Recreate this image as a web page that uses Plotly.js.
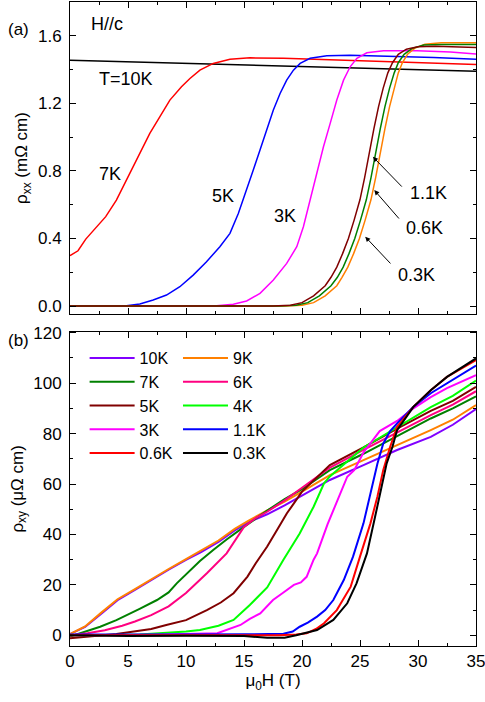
<!DOCTYPE html>
<html>
<head>
<meta charset="utf-8">
<script src="https://cdn.plot.ly/plotly-3.0.1.min.js"></script>
<style>html,body{margin:0;padding:0;background:#fff;}#chart{width:485px;height:702px;}</style>
</head>
<body>
<div id="chart"></div>
<script>
// ---------- Panel (a): rho_xx (mOhm cm) vs field (T) ----------
var xx10K_H = [0, 35];
var xx10K_R = [1.454, 1.39];

var xx7K_H = [0, 0.69, 1.36, 2.28, 3.08, 4.0, 4.87, 5.44, 6.02, 6.88, 7.74, 8.61, 9.61, 10.34, 11.2, 12.35, 13.79, 15.52, 18.4, 21.28, 25.6, 29.9, 35];
var xx7K_R = [0.298, 0.327, 0.396, 0.469, 0.529, 0.627, 0.746, 0.824, 0.903, 1.022, 1.120, 1.219, 1.298, 1.347, 1.396, 1.436, 1.460, 1.469, 1.466, 1.460, 1.450, 1.440, 1.430];

var xx5K_H = [0, 4.87, 6.02, 7.17, 8.32, 9.47, 10.62, 11.77, 12.92, 13.79, 14.51, 15.23, 15.8, 16.38, 16.95, 17.53, 18.11, 18.68, 19.26, 19.84, 20.7, 22.14, 24.15, 27.03, 31.35, 35];
var xx5K_R = [0, 0.002, 0.012, 0.036, 0.065, 0.114, 0.183, 0.262, 0.351, 0.43, 0.548, 0.686, 0.805, 0.923, 1.041, 1.160, 1.258, 1.337, 1.396, 1.436, 1.466, 1.481, 1.485, 1.481, 1.471, 1.460];

var xx3K_H = [0, 12.64, 14.08, 15.23, 16.38, 17.53, 18.68, 19.55, 20.12, 20.7, 21.28, 21.85, 22.43, 23.0, 23.58, 24.15, 24.73, 25.59, 27.03, 29.91, 32.79, 35];
var xx3K_R = [0, 0.002, 0.010, 0.030, 0.075, 0.154, 0.252, 0.351, 0.469, 0.627, 0.785, 0.943, 1.081, 1.219, 1.337, 1.416, 1.466, 1.499, 1.511, 1.511, 1.503, 1.491];

var xx1p1K_H = [0, 17.5, 19.0, 20.0, 21.0, 22.0, 22.5, 23.0, 23.5, 24.0, 24.5, 25.0, 25.4, 25.8, 26.2, 26.6, 27.0, 27.4, 27.8, 28.3, 29.0, 30.0, 31.5, 35];
var xx1p1K_R = [0, 0, 0.005, 0.02, 0.06, 0.12, 0.17, 0.23, 0.31, 0.40, 0.51, 0.63, 0.76, 0.91, 1.05, 1.18, 1.29, 1.38, 1.44, 1.49, 1.52, 1.535, 1.538, 1.53];

var xx0p6K_H = [0, 18.0, 19.5, 20.5, 21.5, 22.5, 23.05, 23.55, 24.05, 24.55, 25.05, 25.55, 25.95, 26.35, 26.75, 27.15, 27.55, 27.95, 28.3, 28.8, 29.5, 30.5, 32, 35];
var xx0p6K_R = [0, 0, 0.005, 0.02, 0.06, 0.12, 0.17, 0.23, 0.31, 0.40, 0.51, 0.63, 0.76, 0.91, 1.05, 1.18, 1.29, 1.38, 1.44, 1.49, 1.525, 1.545, 1.548, 1.548];

var xx0p3K_H = [0, 18.5, 20.0, 21.0, 22.0, 23.0, 23.45, 23.95, 24.45, 24.95, 25.45, 25.95, 26.35, 26.75, 27.15, 27.55, 27.95, 28.3, 28.65, 29.1, 29.7, 30.6, 32, 35];
var xx0p3K_R = [0, 0, 0.005, 0.02, 0.06, 0.12, 0.17, 0.23, 0.31, 0.40, 0.51, 0.63, 0.76, 0.91, 1.05, 1.18, 1.29, 1.38, 1.44, 1.49, 1.525, 1.55, 1.558, 1.558];

// ---------- Panel (b): rho_xy (uOhm cm) vs field (T) ----------
var xy10K_H = [0, 1.3, 2.7, 4.1, 5.6, 7, 8.5, 10, 11.3, 12.8, 14.2, 15.4, 17, 18.5, 20, 22.4, 25.3, 28.2, 31.1, 33, 35];
var xy10K_R = [0.5, 3.3, 8.6, 13.9, 18, 22, 26, 29.9, 33, 37, 41.6, 44.9, 48, 51.5, 55.5, 61.6, 67.5, 73.5, 78.7, 83.5, 89.7];

var xy9K_H = [0, 1.3, 2.7, 4.1, 5.6, 7, 8.5, 10, 11.3, 12.8, 14.2, 15.4, 17, 18.5, 20, 22.4, 25.3, 28.2, 31.1, 33, 35];
var xy9K_R = [0.5, 3.5, 9, 14.3, 18.3, 22.3, 26.3, 30.2, 33.7, 37.6, 42.2, 45.5, 49.5, 53, 57, 63.5, 69.5, 75.4, 81.4, 85.5, 91.3];

var xy7K_H = [0, 1.3, 2.6, 4, 5, 6, 7.5, 8.5, 9.2, 10, 11.2, 12.4, 13.5, 15, 17, 18.5, 20, 22.4, 25.3, 28.2, 31.1, 33, 35];
var xy7K_R = [-0.5, 1.3, 3.4, 6, 8.1, 10.5, 14, 17, 20.6, 24, 29.5, 34, 38, 43, 49.5, 54, 58, 65.5, 72, 79, 86, 90, 94.8];

var xy6K_H = [0, 1.5, 3, 4.5, 5.6, 7, 8.5, 10, 11.8, 13.5, 15, 16, 17, 18.5, 20, 22.4, 25.3, 28.2, 31.1, 33, 35];
var xy6K_R = [0, 0.8, 2, 3.8, 5.5, 8, 11.5, 16.8, 24.6, 32.5, 43, 46.5, 49, 53.5, 58.5, 66.5, 73.5, 80.5, 87.3, 91.5, 96.8];

var xy5K_H = [0, 2, 4, 5.5, 7, 8.3, 10, 11.8, 13, 14.1, 15.3, 16, 17, 18, 18.7, 19.3, 20, 22.4, 25.3, 28.2, 31.1, 33, 35];
var xy5K_R = [-1.2, -0.5, 0.5, 1.5, 2.5, 4.1, 6, 10, 13, 16.7, 23.3, 28.5, 35.2, 43, 48.4, 52.3, 57, 67.5, 74.5, 82, 89, 93, 98.5];

var xy4K_H = [0, 3, 6, 8, 10, 11.2, 12.8, 14.1, 15.5, 17, 18.4, 19.8, 21, 21.9, 22.4, 25.3, 28.2, 31.1, 33, 35];
var xy4K_R = [0, 0, 0.3, 0.8, 1.5, 2.1, 3.8, 6.1, 12, 19, 30, 40.4, 51, 60.3, 63, 74.5, 82.5, 90.5, 95, 101];

var xy3K_H = [0, 4, 8, 10, 12.7, 14.7, 15.5, 16.4, 17.5, 18.4, 19.3, 19.9, 20.4, 21, 21.3, 22.2, 23, 23.9, 24.5, 25.3, 26.7, 28.2, 29.6, 31.1, 32.5, 35];
var xy3K_R = [0, 0, 0.3, 0.5, 0.8, 4.1, 6.5, 8.7, 14, 17, 20, 21, 23.2, 30, 32.5, 44, 53, 62.9, 65.5, 72.5, 81, 85, 90, 94.5, 98, 103.2];

var xy1p1K_H = [0, 5, 10, 15, 17, 18.4, 19.2, 19.8, 20.5, 21.3, 22, 22.7, 23.6, 24.4, 25.3, 25.9, 26.5, 27, 27.6, 28.2, 29.6, 31.1, 32.5, 35];
var xy1p1K_R = [0.3, 0.2, 0.3, 0.4, 0.5, 0.6, 1.5, 3.4, 5, 7.4, 10, 14, 21.9, 31.2, 44.4, 56, 68, 76, 81, 84, 90.6, 96, 99.9, 107];

var xy0p6K_H = [0, 5, 10, 15, 18, 19.5, 20.4, 21.2, 21.9, 23, 24.2, 25, 25.9, 26.5, 27, 27.6, 28.2, 29.6, 31.1, 32.5, 35];
var xy0p6K_R = [0, 0, 0, 0, 0, 0.3, 0.8, 2.5, 4.8, 10, 19.3, 31.2, 44.4, 55, 65.5, 74.8, 82.7, 90.6, 97.2, 102.5, 109.1];

var xy0p3K_H = [0, 5, 10, 15, 17, 18.5, 19.5, 20.5, 21.3, 22.7, 23.9, 24.7, 25.6, 26.3, 26.7, 27.3, 27.8, 28.2, 29.6, 31.1, 32.5, 35];
var xy0p3K_R = [0, -0.3, -0.2, -0.3, -1, -1, 0, 1, 2.1, 6.1, 12.7, 20.6, 32.5, 47, 55, 68.2, 74.8, 81.4, 90.6, 97.2, 102.5, 109.8];

// ---------- Labels ----------
var legendNames = ['10K', '9K', '7K', '6K', '5K', '4K', '3K', '1.1K', '0.6K', '0.3K'];
var topLabels = ['T=10K', '7K', '5K', '3K', '1.1K', '0.6K', '0.3K'];

var FONT = 'Liberation Sans, Arial, sans-serif';

function lineTrace(x, y, color, xa, ya, name, legend, show, w) {
  return {x: x, y: y, type: 'scatter', mode: 'lines', name: name,
    line: {color: color, width: w || 1.5}, xaxis: xa, yaxis: ya,
    showlegend: !!show, legend: legend || 'legend', hoverinfo: 'skip'};
}

var traces = [
  lineTrace(xx10K_H, xx10K_R, '#000000', 'x', 'y'),
  lineTrace(xx7K_H, xx7K_R, '#ff0000', 'x', 'y'),
  lineTrace(xx5K_H, xx5K_R, '#0000ff', 'x', 'y'),
  lineTrace(xx3K_H, xx3K_R, '#ff00ff', 'x', 'y'),
  lineTrace(xx0p3K_H, xx0p3K_R, '#ff8000', 'x', 'y'),
  lineTrace(xx0p6K_H, xx0p6K_R, '#008000', 'x', 'y'),
  lineTrace(xx1p1K_H, xx1p1K_R, '#800000', 'x', 'y'),

  lineTrace(xy10K_H, xy10K_R, '#8000ff', 'x2', 'y2', legendNames[0], 'legend', true, 2),
  lineTrace(xy9K_H, xy9K_R, '#ff8000', 'x2', 'y2', legendNames[1], 'legend2', true, 2),
  lineTrace(xy7K_H, xy7K_R, '#008000', 'x2', 'y2', legendNames[2], 'legend', true, 2),
  lineTrace(xy6K_H, xy6K_R, '#ff0080', 'x2', 'y2', legendNames[3], 'legend2', true, 2),
  lineTrace(xy5K_H, xy5K_R, '#800000', 'x2', 'y2', legendNames[4], 'legend', true, 2),
  lineTrace(xy4K_H, xy4K_R, '#00ff00', 'x2', 'y2', legendNames[5], 'legend2', true, 2),
  lineTrace(xy3K_H, xy3K_R, '#ff00ff', 'x2', 'y2', legendNames[6], 'legend', true, 2),
  lineTrace(xy1p1K_H, xy1p1K_R, '#0000ff', 'x2', 'y2', legendNames[7], 'legend2', true, 2),
  lineTrace(xy0p6K_H, xy0p6K_R, '#ff0000', 'x2', 'y2', legendNames[8], 'legend', true, 2),
  lineTrace(xy0p3K_H, xy0p3K_R, '#000000', 'x2', 'y2', legendNames[9], 'legend2', true, 2)
];

var axBase = {
  showgrid: false, zeroline: false, showline: true, linecolor: '#000', linewidth: 1,
  mirror: 'allticks', ticks: 'inside', ticklen: 6, tickwidth: 1, tickcolor: '#000',
  tickfont: {family: FONT, size: 17, color: '#000'}, ticklabelstandoff: 4,
  ticklabeloverflow: 'allow'
};
function ax(extra) { return Object.assign({}, JSON.parse(JSON.stringify(axBase)), extra); }
var TF = {family: FONT, size: 17, color: '#000'};
var AF = {family: FONT, size: 18, color: '#000'};

var layout = {
  width: 485, height: 702,
  margin: {l: 70, r: 9, t: 2, b: 56, pad: 0},
  paper_bgcolor: '#fff', plot_bgcolor: '#fff',
  font: {family: FONT, size: 17, color: '#000'},
  xaxis: ax({domain: [0, 1], range: [0, 35], anchor: 'y', dtick: 5, tick0: 0, showticklabels: false,
    minor: {dtick: 2.5, ticklen: 3, ticks: 'inside', tickcolor: '#000'}}),
  yaxis: ax({domain: [0.5155, 1], range: [-0.0474, 1.7995], anchor: 'x', dtick: 0.4, tick0: 0, tickformat: '.1f',
    minor: {dtick: 0.2, ticklen: 3, ticks: 'inside', tickcolor: '#000'},
    title: {text: 'ρ<sub>xx</sub> (mΩ cm)', font: TF, standoff: 5}}),
  xaxis2: ax({domain: [0, 1], range: [0, 35], anchor: 'y2', dtick: 5, tick0: 0, ticklabelstandoff: 0,
    minor: {dtick: 2.5, ticklen: 3, ticks: 'inside', tickcolor: '#000'},
    title: {text: 'μ<sub>0</sub>H (T)', font: TF, standoff: 2}}),
  yaxis2: ax({domain: [0, 0.488], range: [-4.24, 120.4], anchor: 'x2', dtick: 20, tick0: 0,
    minor: {dtick: 10, ticklen: 3, ticks: 'inside', tickcolor: '#000'},
    title: {text: 'ρ<sub>xy</sub> (μΩ cm)', font: TF, standoff: 5}}),
  legend: {x: 0.036, y: 0.4736, xanchor: 'left', yanchor: 'top', bgcolor: 'rgba(0,0,0,0)', itemwidth: 45,
    font: {family: FONT, size: 16, color: '#000'}, tracegroupgap: 0},
  legend2: {x: 0.266, y: 0.4736, xanchor: 'left', yanchor: 'top', bgcolor: 'rgba(0,0,0,0)', itemwidth: 45,
    font: {family: FONT, size: 16, color: '#000'}, tracegroupgap: 0},
  annotations: [
    {xref: 'paper', yref: 'paper', x: -0.158, y: 0.975, xanchor: 'left', text: '(a)', showarrow: false, font: TF},
    {xref: 'paper', yref: 'paper', x: -0.158, y: 0.475, xanchor: 'left', text: '(b)', showarrow: false, font: TF},
    {xref: 'x', yref: 'y', x: 1.61, y: 1.669, text: 'H//c', showarrow: false, xanchor: 'left', font: AF},
    {xref: 'x', yref: 'y', x: 4.82, y: 1.343, text: topLabels[0], showarrow: false, font: AF},
    {xref: 'x', yref: 'y', x: 3.43, y: 0.781, text: topLabels[1], showarrow: false, font: AF},
    {xref: 'x', yref: 'y', x: 13.19, y: 0.651, text: topLabels[2], showarrow: false, font: AF},
    {xref: 'x', yref: 'y', x: 18.54, y: 0.533, text: topLabels[3], showarrow: false, font: AF},
    {xref: 'x', yref: 'y', x: 30.89, y: 0.669, text: topLabels[4], showarrow: false, font: AF},
    {xref: 'x', yref: 'y', x: 30.54, y: 0.462, text: topLabels[5], showarrow: false, font: AF},
    {xref: 'x', yref: 'y', x: 29.85, y: 0.183, text: topLabels[6], showarrow: false, font: AF},
    {xref: 'x', yref: 'y', axref: 'x', ayref: 'y', x: 26.11, y: 0.883, ax: 28.73, ay: 0.698, text: '', showarrow: true, arrowhead: 2, arrowsize: 1, arrowwidth: 1, arrowcolor: '#000'},
    {xref: 'x', yref: 'y', axref: 'x', ayref: 'y', x: 26.23, y: 0.686, ax: 28.47, ay: 0.509, text: '', showarrow: true, arrowhead: 2, arrowsize: 1, arrowwidth: 1, arrowcolor: '#000'},
    {xref: 'x', yref: 'y', axref: 'x', ayref: 'y', x: 25.45, y: 0.410, ax: 27.75, ay: 0.243, text: '', showarrow: true, arrowhead: 2, arrowsize: 1, arrowwidth: 1, arrowcolor: '#000'}
  ]
};

Plotly.newPlot('chart', traces, layout, {displayModeBar: false, staticPlot: true});
</script>
</body>
</html>
